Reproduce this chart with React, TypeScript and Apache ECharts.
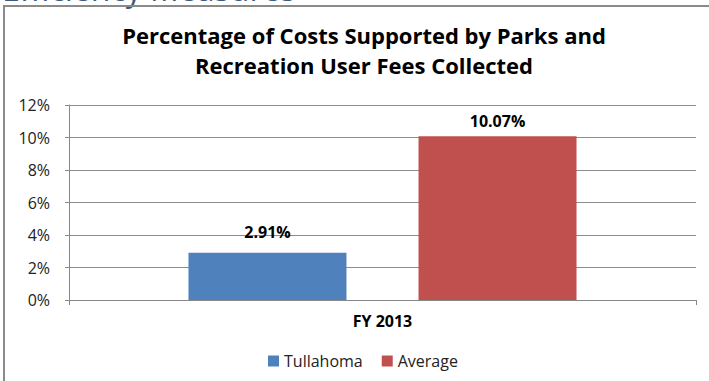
import React, { useEffect, useRef } from "react";
import * as echarts from "echarts";

const categories = ["FY 2013"];
const tullahoma = [2.91];
const average = [10.07];
const seriesNames = ["Tullahoma", "Average"];
const yTicks = [0, 2, 4, 6, 8, 10, 12];

const FONT = "'Open Sans', 'DejaVu Sans', sans-serif";

export default function App() {
  const ref = useRef<HTMLDivElement>(null);
  useEffect(() => {
    if (!ref.current) return;
    const chart = echarts.init(ref.current, undefined, { renderer: "svg" });
    const labelCfg = (distance: number) => ({
      show: true,
      position: "top",
      distance,
      formatter: (p: any) => p.value.toFixed(2) + "%",
      color: "#000",
      fontWeight: "bold",
      fontSize: 16,
      fontFamily: FONT,
    });
    chart.setOption({
      animation: false,
      backgroundColor: "#fff",
      textStyle: { fontFamily: FONT },
      title: {
        text: "Percentage of Costs Supported by Parks and\nRecreation User Fees Collected",
        left: 359,
        top: 15,
        textAlign: "center",
        textStyle: {
          fontFamily: FONT,
          fontSize: 22,
          fontWeight: "bold",
          color: "#000",
          lineHeight: 30,
        },
      },
      graphic: [
        {
          type: "text",
          left: 2,
          top: -28,
          style: {
            text: "Efficiency Measures",
            font: "32px 'Open Sans', sans-serif",
            fill: "#3C5A7E",
          },
          z: 1,
        },
        {
          type: "rect",
          shape: { x: 4, y: 6, width: 760, height: 420 },
          style: { fill: "none", stroke: "#8a8a8a", lineWidth: 2 },
          z: 2,
        },
      ],
      legend: {
        bottom: 7,
        left: 263,
        itemWidth: 11,
        itemHeight: 11,
        itemGap: 19,
        icon: "rect",
        data: seriesNames,
        textStyle: { fontFamily: FONT, fontSize: 16, color: "#222" },
      },
      grid: { left: 69, right: 13, top: 105, bottom: 81 },
      xAxis: {
        type: "category",
        data: categories,
        axisLine: { lineStyle: { color: "#888" } },
        axisTick: { show: true, length: 5, lineStyle: { color: "#888" } },
        axisLabel: {
          color: "#000",
          fontWeight: "bold",
          fontSize: 16,
          fontFamily: FONT,
          margin: 13,
        },
      },
      yAxis: {
        type: "value",
        min: yTicks[0],
        max: yTicks[yTicks.length - 1],
        interval: 2,
        axisLine: { show: true, lineStyle: { color: "#888" } },
        axisTick: { show: true, length: 4, lineStyle: { color: "#888" } },
        splitLine: { lineStyle: { color: "#8c8c8c" } },
        axisLabel: {
          formatter: (v: number) => v + "%",
          color: "#222",
          fontSize: 16,
          fontFamily: FONT,
          margin: 19,
        },
      },
      series: [
        {
          name: seriesNames[0],
          type: "bar",
          data: tullahoma,
          barWidth: 158,
          barGap: "45.6%",
          itemStyle: { color: "#4F81BD" },
          label: labelCfg(13),
        },
        {
          name: seriesNames[1],
          type: "bar",
          data: average,
          barWidth: 158,
          barGap: "45.6%",
          itemStyle: { color: "#C0504D" },
          label: labelCfg(7),
        },
      ],
    });
    return () => chart.dispose();
  }, []);
  return (
    <div
      ref={ref}
      style={{ position: "fixed", left: 0, top: 0, width: 709, height: 381, background: "#fff" }}
    />
  );
}
